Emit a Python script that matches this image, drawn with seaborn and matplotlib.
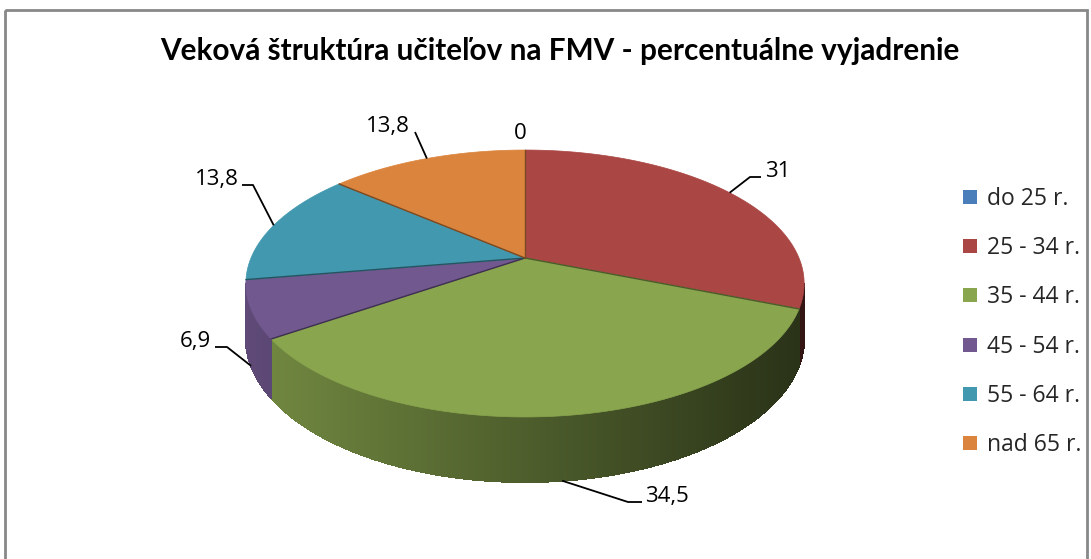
import numpy as np
import matplotlib
matplotlib.use("Agg")
import matplotlib.pyplot as plt
import seaborn as sns
from matplotlib.patches import Polygon, Rectangle
from matplotlib.collections import PolyCollection
from matplotlib.lines import Line2D

# --- data ---
categories = ["do 25 r.", "25 - 34 r.", "35 - 44 r.", "45 - 54 r.", "55 - 64 r.", "nad 65 r."]
values = [0, 31, 34.5, 6.9, 13.8, 13.8]
value_labels = ["0", "31", "34,5", "6,9", "13,8", "13,8"]
colors = ["#4A7EBB", "#AA4643", "#89A54E", "#71588F", "#4198AF", "#DB843D"]
title = "Veková štruktúra učiteľov na FMV - percentuálne vyjadrenie"

sns.set_theme(style="white")
plt.rcParams["font.family"] = ["Open Sans", "DejaVu Sans"]
palette = sns.color_palette(colors)

W, H = 1091, 559
fig = plt.figure(figsize=(W / 100, H / 100), dpi=100)
ax = fig.add_axes([0, 0, 1, 1])
ax.set_xlim(0, W)
ax.set_ylim(H, 0)
ax.axis("off")

# pie geometry in pixels, with a bit of perspective like Excel's 3D pie
cx, cy = 525, 258
rx, ry = 274, 128.6
k = 0.191
depth = 52.6


def proj(theta, down=0.0):
    t = np.radians(theta)
    s = -np.cos(t)
    p = 1.0 / (1.0 - k * s)
    return cx + rx * np.sin(t) * p, cy + (ry * s + down) * p


def shade(c, f):
    return tuple(min(1, v * f) for v in c)


total = sum(values)
edges = np.concatenate([[0], np.cumsum(values) / total * 360])

# visible part of the outer wall lies between the two silhouette angles
vis_lo = 90 + np.degrees(np.arcsin(k))
vis_hi = 270 - np.degrees(np.arcsin(k))

quads, qcols = [], []
for i, c in enumerate(palette):
    a0, a1 = edges[i], edges[i + 1]
    lo, hi = max(a0, vis_lo), min(a1, vis_hi)
    if hi <= lo:
        continue
    ts = np.linspace(lo, hi, max(3, int((hi - lo) * 4)))
    for t0, t1 in zip(ts[:-1], ts[1:]):
        quads.append([proj(t0), proj(t1), proj(t1, depth), proj(t0, depth)])
        u = (proj((t0 + t1) / 2)[0] - cx) / rx
        qcols.append(shade(c, 0.69 - 0.264 * (u + 0.46)))
ax.add_collection(PolyCollection(quads, facecolors=qcols, edgecolors=qcols,
                                 linewidths=0.8, antialiased=False))

# top face
for i, c in enumerate(palette):
    a0, a1 = edges[i], edges[i + 1]
    if a1 <= a0:
        continue
    ts = np.linspace(a0, a1, 200)
    pts = [(cx, cy)] + [proj(t) for t in ts]
    ax.add_patch(Polygon(pts, closed=True, facecolor=c, edgecolor=c, lw=0.5))
# slice separators
for i, c in enumerate(palette):
    if values[i] <= 0:
        continue
    ex, ey = proj(edges[i + 1])
    ax.plot([cx, ex], [cy, ey], color=shade(palette[(i + 1) % len(palette)] if values[(i + 1) % len(values)] > 0 else c, 0.55), lw=1.0)

# data labels with leader lines
label_pos = [(520, 139), (765, 177), (645, 502), (211, 347), (239, 185), (410, 132)]
label_ha = ["center", "left", "left", "right", "right", "right"]
knees = [None, (750, 177), (628, 502), (227, 347), (253, 185), (415, 132)]
tails = [None, 761, 642, 215, 242, None]
on_side = [False, False, True, True, False, False]

for i in range(len(values)):
    mid = (edges[i] + edges[i + 1]) / 2
    if knees[i] is not None:
        ax_, ay_ = proj(mid, depth if on_side[i] else 0)
        xs = [ax_, knees[i][0]]
        ys = [ay_, knees[i][1]]
        if tails[i] is not None:
            xs.append(tails[i])
            ys.append(knees[i][1])
        ax.plot(xs, ys, color="black", lw=1.3, solid_capstyle="butt")
    ax.text(label_pos[i][0], label_pos[i][1], value_labels[i], ha=label_ha[i],
            va="baseline", fontsize=16, color="black")

ax.text(560, 51, title, ha="center", va="center", fontsize=21.4, fontweight="bold",
        family=["Lato", "DejaVu Sans"], color="black")

handles = [Line2D([], [], marker="s", ls="", markersize=10.5, color=c, markeredgewidth=0)
           for c in palette]
ax.legend(handles, categories, loc="center left", bbox_to_anchor=(948 / W, 1 - 322 / H),
          frameon=False, fontsize=16.5, borderpad=0, handlelength=0.9, handletextpad=0.3,
          labelspacing=1.1)

ax.add_patch(Rectangle((5, 10), 1082, 590, fill=False, edgecolor="#888888", lw=2))

fig.savefig("out.png", dpi=100)
